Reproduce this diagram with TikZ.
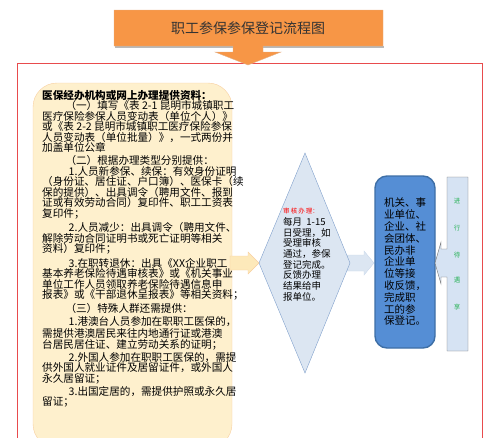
\documentclass[tikz,border=0pt]{standalone}
\usepackage{fontspec}
\newfontfamily\cjk{Noto Sans CJK SC}
\definecolor{titleorange}{HTML}{F79646}
\definecolor{framered}{HTML}{E84B4D}
\definecolor{cream}{HTML}{FEF0CD}
\definecolor{creamline}{HTML}{F8CFA0}
\definecolor{paleblue}{HTML}{DCE6F2}
\definecolor{paleline}{HTML}{7F9FCB}
\definecolor{boxblue}{HTML}{558ED5}
\definecolor{boxline}{HTML}{3E6FA6}
\definecolor{noteblue}{HTML}{D6E3F3}
\definecolor{notegreen}{HTML}{2DB35A}
\definecolor{pageyellow}{HTML}{FDE9BA}
\begin{document}
\begin{tikzpicture}[x=1pt,y=-1pt]
		\useasboundingbox (0,0) rectangle (500,437);
		\draw[framered,line width=0.9pt] (17,63) rectangle (482,460);
		\fill[gray!55] (115,46) rectangle (384,47.5);
		\draw[titleorange!85!black!60,fill=titleorange] (114,10)--(383,10)--(383,46)--(263,46)--(263,52)--(281,52)--(248,65)--(215,52)--(233,52)--(233,46)--(114,46)--cycle;
		\node[text=black!80,font=\cjk\fontsize{14}{14}\selectfont] (title) at (248,28) {职工参保参保登记流程图};
		\draw[creamline,fill=cream,rounded corners=24] (33,83) rectangle (232,448);
		\node[anchor=north west,align=left,inner sep=0,font=\cjk\fontsize{10.6}{10.5}\selectfont] (data) at (42,90) {%
			{\bfseries 医保经办机构或网上办理提供资料：}\\
			\hspace*{2.2em}（一）填写《表 2-1 昆明市城镇职工\\
			医疗保险参保人员变动表（单位个人）》\\
			或《表 2-2 昆明市城镇职工医疗保险参保\\
			人员变动表（单位批量）》，一式两份并\\
			加盖单位公章\\[2.5pt]
			\hspace*{2.2em}（二）根据办理类型分别提供：\\
			\hspace*{2.5em}1.人员新参保、续保：有效身份证明\\
			（身份证、居住证、户口簿）、医保卡（续\\
			保的提供）、出具调令（聘用文件、报到\\
			证或有效劳动合同）复印件、职工工资表\\
			复印件；\\[2.5pt]
			\hspace*{2.5em}2.人员减少：出具调令（聘用文件、\\
			解除劳动合同证明书或死亡证明等相关\\
			资料）复印件；\\[3pt]
			\hspace*{2.5em}3.在职转退休：出具《XX企业职工\\
			基本养老保险待遇审核表》或《机关事业\\
			单位工作人员领取养老保险待遇信息申\\
			报表》或《干部退休呈报表》等相关资料；\\[1.5pt]
			\hspace*{2.2em}（三）特殊人群还需提供：\\[3pt]
			\hspace*{2.5em}1.港澳台人员参加在职职工医保的，\\[1.5pt]
			需提供港澳居民来往内地通行证或港澳\\
			台居民居住证、建立劳动关系的证明；\\[1.5pt]
			\hspace*{2.5em}2.外国人参加在职职工医保的，需提\\
			供外国人就业证件及居留证件，或外国人\\
			永久居留证；\\[1.5pt]
			\hspace*{2.5em}3.出国定居的，需提供护照或永久居\\
			留证；};
		\draw[creamline,fill=pageyellow] (230,256)--(248,256)--(248,252)--(259,263)--(248,274)--(248,270)--(230,270)--cycle;
		\draw[paleblue!80!paleline,fill=paleblue] (347,255)--(364,255)--(364,251)--(374,263)--(364,275)--(364,271)--(347,271)--cycle;
		\draw[paleline,fill=paleblue] (305,153)--(350,263)--(305,373)--(259,263)--cycle;
		\node[anchor=north west,align=left,inner sep=0,font=\cjk\fontsize{9.5}{10.7}\selectfont] (check) at (283,208) {%
			{\color{red}\fontsize{6.5}{6.5}\selectfont 审\,核\,办\,理：}\\[1pt]
			每月\ \ 1-15\\
			日受理，如\\
			受理审核\\
			通过，参保\\
			登记完成。\\
			反馈办理\\
			结果给申\\
			报单位。};
		\node[draw=boxline,line width=1.4pt,fill=boxblue,rounded corners=12,minimum width=60,minimum height=172,align=left,inner sep=2,font=\cjk\fontsize{10.5}{11.8}\selectfont] (unit) at (405,262) {%
			机关、事\\
			业单位、\\
			企业、社\\
			会团体、\\
			民办非\\
			企业单\\
			位等接\\
			收反馈，\\
			完成职\\
			工的参\\
			保登记。};
		\draw[gray!90!black,fill=noteblue] (447,177)--(468,177)--(468,351)--(447,351)--(447,277)--(441,277)--(441,284)--(435,263)--(441,242)--(441,249)--(447,249)--cycle;
		\foreach \y/\c in {201/进,228/行,255/待,280/遇,307/享}{
			\node[text=notegreen,font=\cjk\fontsize{6.5}{7}\selectfont] (note\y) at (457,\y) {\c};
		}
	\end{tikzpicture}
\end{document}
